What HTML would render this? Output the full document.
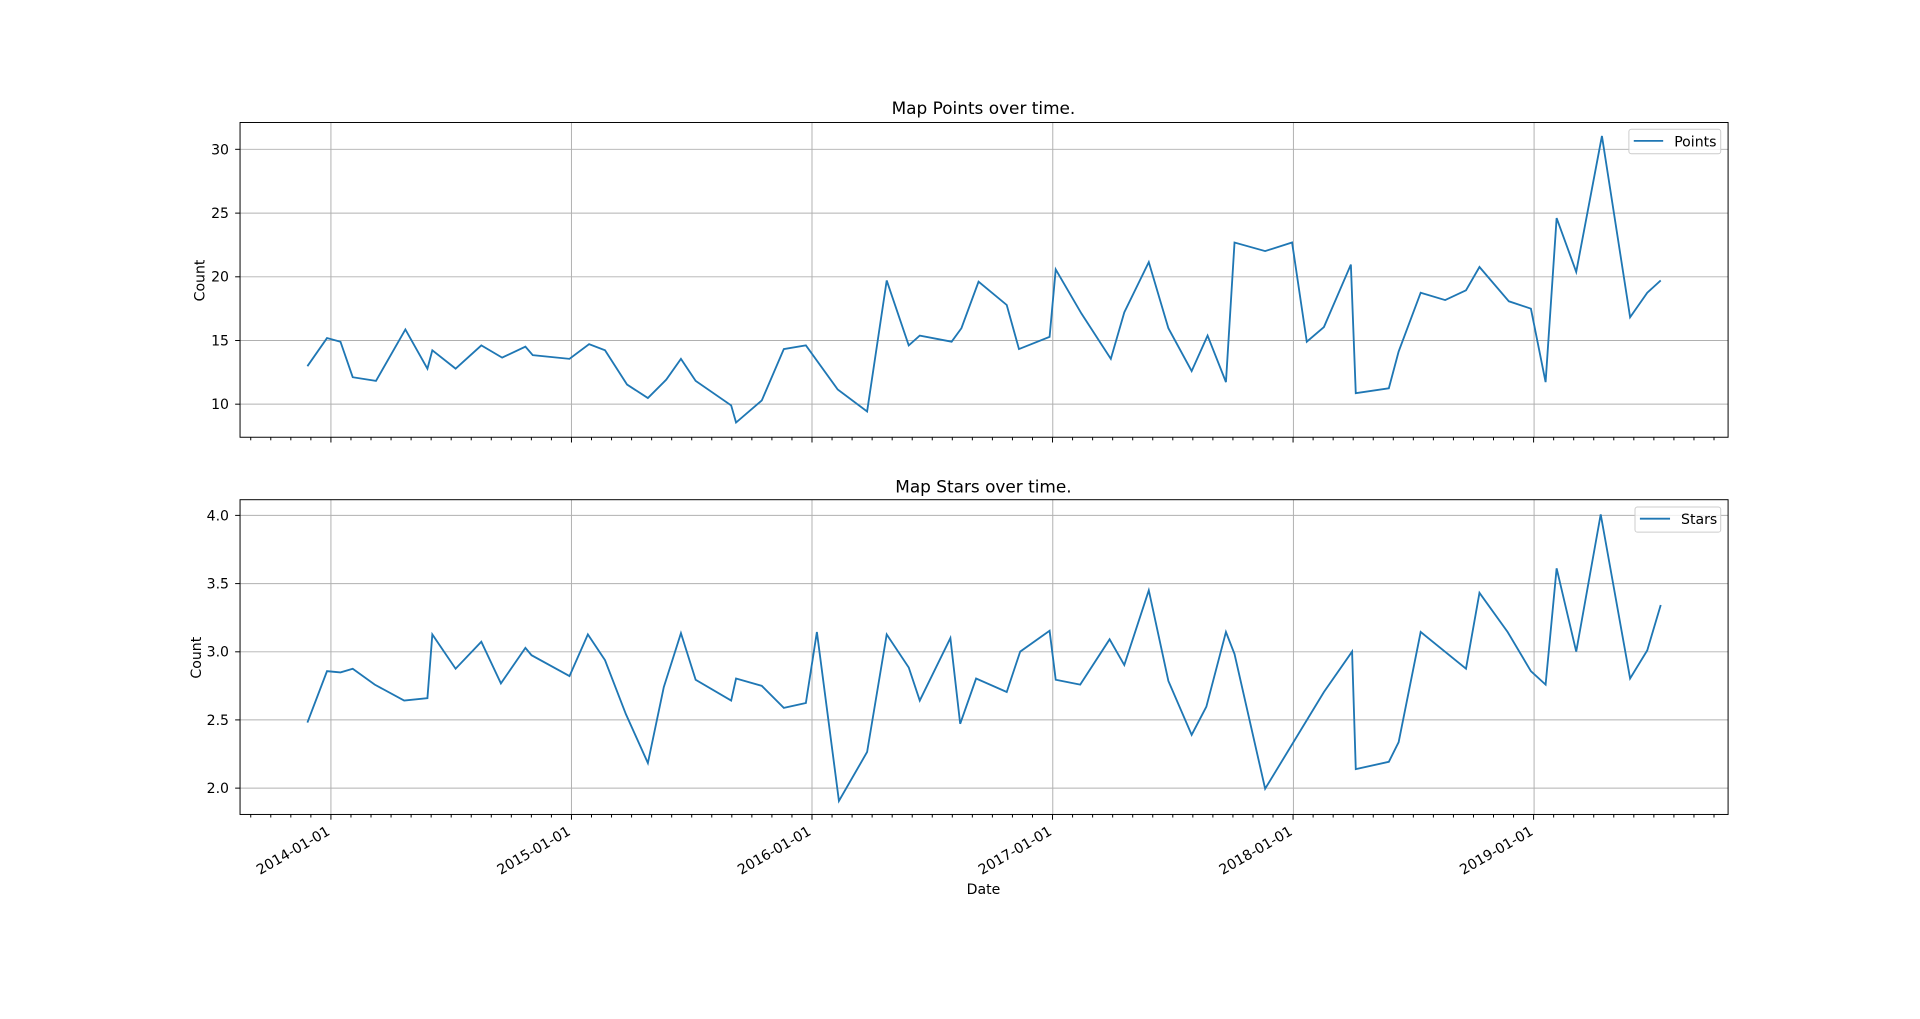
<!DOCTYPE html>
<html><head><meta charset="utf-8"><style>html,body{margin:0;padding:0;background:#fff}svg{display:block}</style></head>
<body>
<svg width="1920" height="1019" viewBox="0 0 1567.7 832" xmlns="http://www.w3.org/2000/svg" font-family="'DejaVu Sans','Liberation Sans',sans-serif" font-size="11.5" fill="#000">
<g id="grid" stroke="#b0b0b0" stroke-width="0.8">
<line x1="270.2" y1="100" x2="270.2" y2="357"/><line x1="466.6" y1="100" x2="466.6" y2="357"/><line x1="663" y1="100" x2="663" y2="357"/><line x1="859.6" y1="100" x2="859.6" y2="357"/><line x1="1056.1" y1="100" x2="1056.1" y2="357"/><line x1="1252.6" y1="100" x2="1252.6" y2="357"/>
<line x1="196" y1="121.9" x2="1411" y2="121.9"/><line x1="196" y1="174" x2="1411" y2="174"/><line x1="196" y1="226" x2="1411" y2="226"/><line x1="196" y1="278" x2="1411" y2="278"/><line x1="196" y1="330" x2="1411" y2="330"/>
<line x1="270.2" y1="408" x2="270.2" y2="665"/><line x1="466.6" y1="408" x2="466.6" y2="665"/><line x1="663" y1="408" x2="663" y2="665"/><line x1="859.6" y1="408" x2="859.6" y2="665"/><line x1="1056.1" y1="408" x2="1056.1" y2="665"/><line x1="1252.6" y1="408" x2="1252.6" y2="665"/>
<line x1="196" y1="420.8" x2="1411" y2="420.8"/><line x1="196" y1="476.5" x2="1411" y2="476.5"/><line x1="196" y1="532.2" x2="1411" y2="532.2"/><line x1="196" y1="587.8" x2="1411" y2="587.8"/><line x1="196" y1="643.5" x2="1411" y2="643.5"/>
</g>
<polyline fill="none" stroke="#1f77b4" stroke-width="1.5" points="251,299 267,276 278,279 288,308 307,311 331,269 349,301 353,286 372,301 393,282 410,292 429,283 435,290 465,293 481,281 494,286 512,314 529,325 544,310 556,293 568,311 597,331 601,345 622,327 640,285 658,282 684,318 708,336 724,229 742,282 751,274 777,279 785,268 799,230 822,249 832,285 857,275 862,220 883,256 907,293 918,255 938,214 954,268 973,303 986,274 1001,312 1008,198 1033,205 1055,198 1067,279 1081,267 1103,216 1107,321 1134,317 1142,287 1160,239 1180,245 1197,237 1208,218 1232,246 1250,252 1262,312 1271,178 1287,222 1308,111 1331,259 1345,239 1356,229"/>
<polyline fill="none" stroke="#1f77b4" stroke-width="1.5" points="251,590 267,548 278,549 288,546 306,559 330,572 349,570 353,518 372,546 393,524 409,558 429,529 434,535 465,552 480,518 494,539 511,583 529,623 542,561 556,517 568,555 597,572 601,554 622,560 640,578 658,574 667,516 685,654 708,614 724,518 742,545 751,572 776,521 784,591 797,554 822,565 833,532 857,515 862,555 882,559 906,522 918,543 938,482 954,556 973,600 985,577 1001,516 1008,534 1033,644 1081,565 1104,532 1107,628 1134,622 1142,606 1160,516 1197,546 1208,484 1231,516 1250,548 1262,559 1271,464 1287,532 1307,420 1331,554 1345,531 1356,494"/>
<rect x="196" y="100" width="1215" height="257" fill="none" stroke="#000" stroke-width="0.8"/>
<rect x="196" y="408" width="1215" height="257" fill="none" stroke="#000" stroke-width="0.8"/>
<g stroke="#000" stroke-width="0.8" id="ticks"></g>
<g font-size="11.5" text-anchor="end">
<text x="187" y="126">30</text><text x="187" y="178">25</text><text x="187" y="230">20</text><text x="187" y="282">15</text><text x="187" y="334">10</text>
<text x="187" y="425">4.0</text><text x="187" y="480.5">3.5</text><text x="187" y="536.2">3.0</text><text x="187" y="591.8">2.5</text><text x="187" y="647.5">2.0</text>
</g>
<g text-anchor="end" font-size="11.5">
<text transform="translate(270.2,681) rotate(-30)">2014-01-01</text>
<text transform="translate(466.6,681) rotate(-30)">2015-01-01</text>
<text transform="translate(663,681) rotate(-30)">2016-01-01</text>
<text transform="translate(859.6,681) rotate(-30)">2017-01-01</text>
<text transform="translate(1056.1,681) rotate(-30)">2018-01-01</text>
<text transform="translate(1252.6,681) rotate(-30)">2019-01-01</text>
</g>
<text x="803" y="93" text-anchor="middle" font-size="13.8">Map Points over time.</text>
<text x="803" y="402" text-anchor="middle" font-size="13.8">Map Stars over time.</text>
<text x="803" y="730" text-anchor="middle">Date</text>
<text transform="translate(167,229) rotate(-90)" text-anchor="middle">Count</text>
<text transform="translate(164,537) rotate(-90)" text-anchor="middle">Count</text>
<rect x="1330" y="105.5" width="75" height="20" rx="2" fill="#fff" fill-opacity="0.8" stroke="#ccc" stroke-width="0.8"/>
<line x1="1334" y1="115" x2="1358" y2="115" stroke="#1f77b4" stroke-width="1.5"/>
<text x="1367" y="119.5">Points</text>
<rect x="1335" y="414" width="70" height="20.5" rx="2" fill="#fff" fill-opacity="0.8" stroke="#ccc" stroke-width="0.8"/>
<line x1="1339" y1="423.5" x2="1363.6" y2="423.5" stroke="#1f77b4" stroke-width="1.5"/>
<text x="1372.6" y="428">Stars</text>
</svg>
<script>
(function(){var g=document.getElementById('ticks'),ns='http://www.w3.org/2000/svg';
function L(a,b,c,d){var l=document.createElementNS(ns,'line');l.setAttribute('x1',a);l.setAttribute('y1',b);l.setAttribute('x2',c);l.setAttribute('y2',d);g.appendChild(l);}
var x0=270.2,py=196.4/12;
for(var m=-4;m<=82;m++){var x=x0+m*py;if(x<196||x>1411)continue;var len=(m%12==0)?4.3:2.5;L(x,357,x,357+len);L(x,665,x,665+len);}
[121.9,174,226,278,330,420.8,476.5,532.2,587.8,643.5].forEach(function(y){L(196,y,192,y);});})();
</script>
</body></html>
